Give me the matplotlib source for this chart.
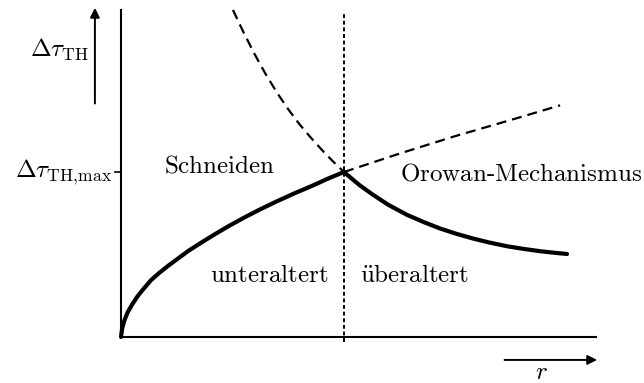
import matplotlib
matplotlib.use("Agg")
import matplotlib.pyplot as plt

plt.rcParams["mathtext.fontset"] = "cm"

# Schneiden (unteraltert), normierter Radius r / r_krit und Δτ / Δτ_max
r_schneiden = [0, 0.005, 0.015, 0.03, 0.05, 0.075, 0.1, 0.135, 0.17, 0.21,
               0.25, 0.3, 0.36, 0.42, 0.48, 0.55, 0.62, 0.7, 0.78, 0.86,
               0.93, 1.0]
tau_schneiden = [0, 0.05, 0.10, 0.15, 0.197, 0.248, 0.29, 0.345, 0.387, 0.43,
                 0.47, 0.52, 0.572, 0.622, 0.67, 0.722, 0.771, 0.823, 0.872,
                 0.918, 0.961, 1.0]

# Orowan (überaltert)
r_orowan = [1.0, 1.03, 1.07, 1.13, 1.2, 1.283, 1.36, 1.43, 1.5, 1.578, 1.65,
            1.731, 1.8, 1.879, 1.94, 2.0]
tau_orowan = [1.0, 0.965, 0.92, 0.862, 0.8, 0.74, 0.695, 0.658, 0.627, 0.597,
              0.573, 0.55, 0.535, 0.52, 0.511, 0.503]

# gestrichelte Fortsetzungen
r_schneiden_ext = [1.0, 1.25, 1.5, 1.75, 1.969]
tau_schneiden_ext = [1.0, 1.112, 1.218, 1.316, 1.404]
r_orowan_ext = [0.502, 0.55, 0.6, 0.65, 0.7, 0.75, 0.8, 0.85, 0.9, 0.95, 1.0]
tau_orowan_ext = [1.982, 1.845, 1.712, 1.59, 1.48, 1.38, 1.29, 1.21, 1.135,
                  1.065, 1.0]

r_krit = 1.0
tau_max = 1.0

fig = plt.figure(figsize=(6.44, 3.83), dpi=100)
ax = fig.add_axes([0, 0, 1, 1])
ax.set_xlim(-0.5426, 2.3453)
ax.set_ylim(-0.2788, 2.0424)
ax.axis("off")

# Achsen
ax.plot([0, 0], [0, 1.99], color="black", lw=1.5, solid_capstyle="butt")
ax.plot([0, 2.135], [0, 0], color="black", lw=1.5, solid_capstyle="butt")
ax.plot([-0.025, 0], [tau_max, tau_max], color="black", lw=1.2)

# Pfeile für Δτ und r
ax.annotate("", xy=(-0.117, 1.995), xytext=(-0.117, 1.415),
            arrowprops=dict(arrowstyle="-|>", color="black", lw=1.4,
                            mutation_scale=14, shrinkA=0, shrinkB=0))
ax.annotate("", xy=(2.135, -0.139), xytext=(1.72, -0.139),
            arrowprops=dict(arrowstyle="-|>", color="black", lw=1.4,
                            mutation_scale=14, shrinkA=0, shrinkB=0))

# Übergang unteraltert / überaltert
ax.plot([r_krit, r_krit], [-0.03, 1.97], color="black", lw=1.4,
        linestyle=(0, (2.0, 1.4)))

ax.plot(r_schneiden_ext, tau_schneiden_ext, color="black", lw=1.6,
        linestyle=(0, (4.5, 2.7)))
ax.plot(r_orowan_ext, tau_orowan_ext, color="black", lw=1.6,
        linestyle=(0, (4.5, 2.7)))

ax.plot(r_schneiden, tau_schneiden, color="black", lw=3.0,
        solid_joinstyle="round", solid_capstyle="round")
ax.plot(r_orowan, tau_orowan, color="black", lw=3.0,
        solid_joinstyle="round", solid_capstyle="round")

fs = 18
ax.text(-0.145, 1.74, r"$\Delta\tau_{\mathrm{TH}}$", fontsize=fs,
        ha="right", va="center")
ax.text(-0.04, tau_max, r"$\Delta\tau_{\mathrm{TH,\!max}}$", fontsize=fs,
        ha="right", va="center")
ax.text(0.195, 1.04, r"$\text{Schneiden}$", fontsize=fs, ha="left", va="center")
ax.text(1.25, 0.99, r"$\text{Orowan-Mechanismus}$", fontsize=fs,
        ha="left", va="center")
ax.text(0.93, 0.375, r"$\text{unteraltert}$", fontsize=fs,
        ha="right", va="center")
ax.text(1.07, 0.375, r"$\mathrm{\"u}\text{beraltert}$", fontsize=fs,
        ha="left", va="center")
ax.text(1.885, -0.215, r"$r$", fontsize=fs, ha="center", va="center")

fig.savefig("out.png", dpi=100)
